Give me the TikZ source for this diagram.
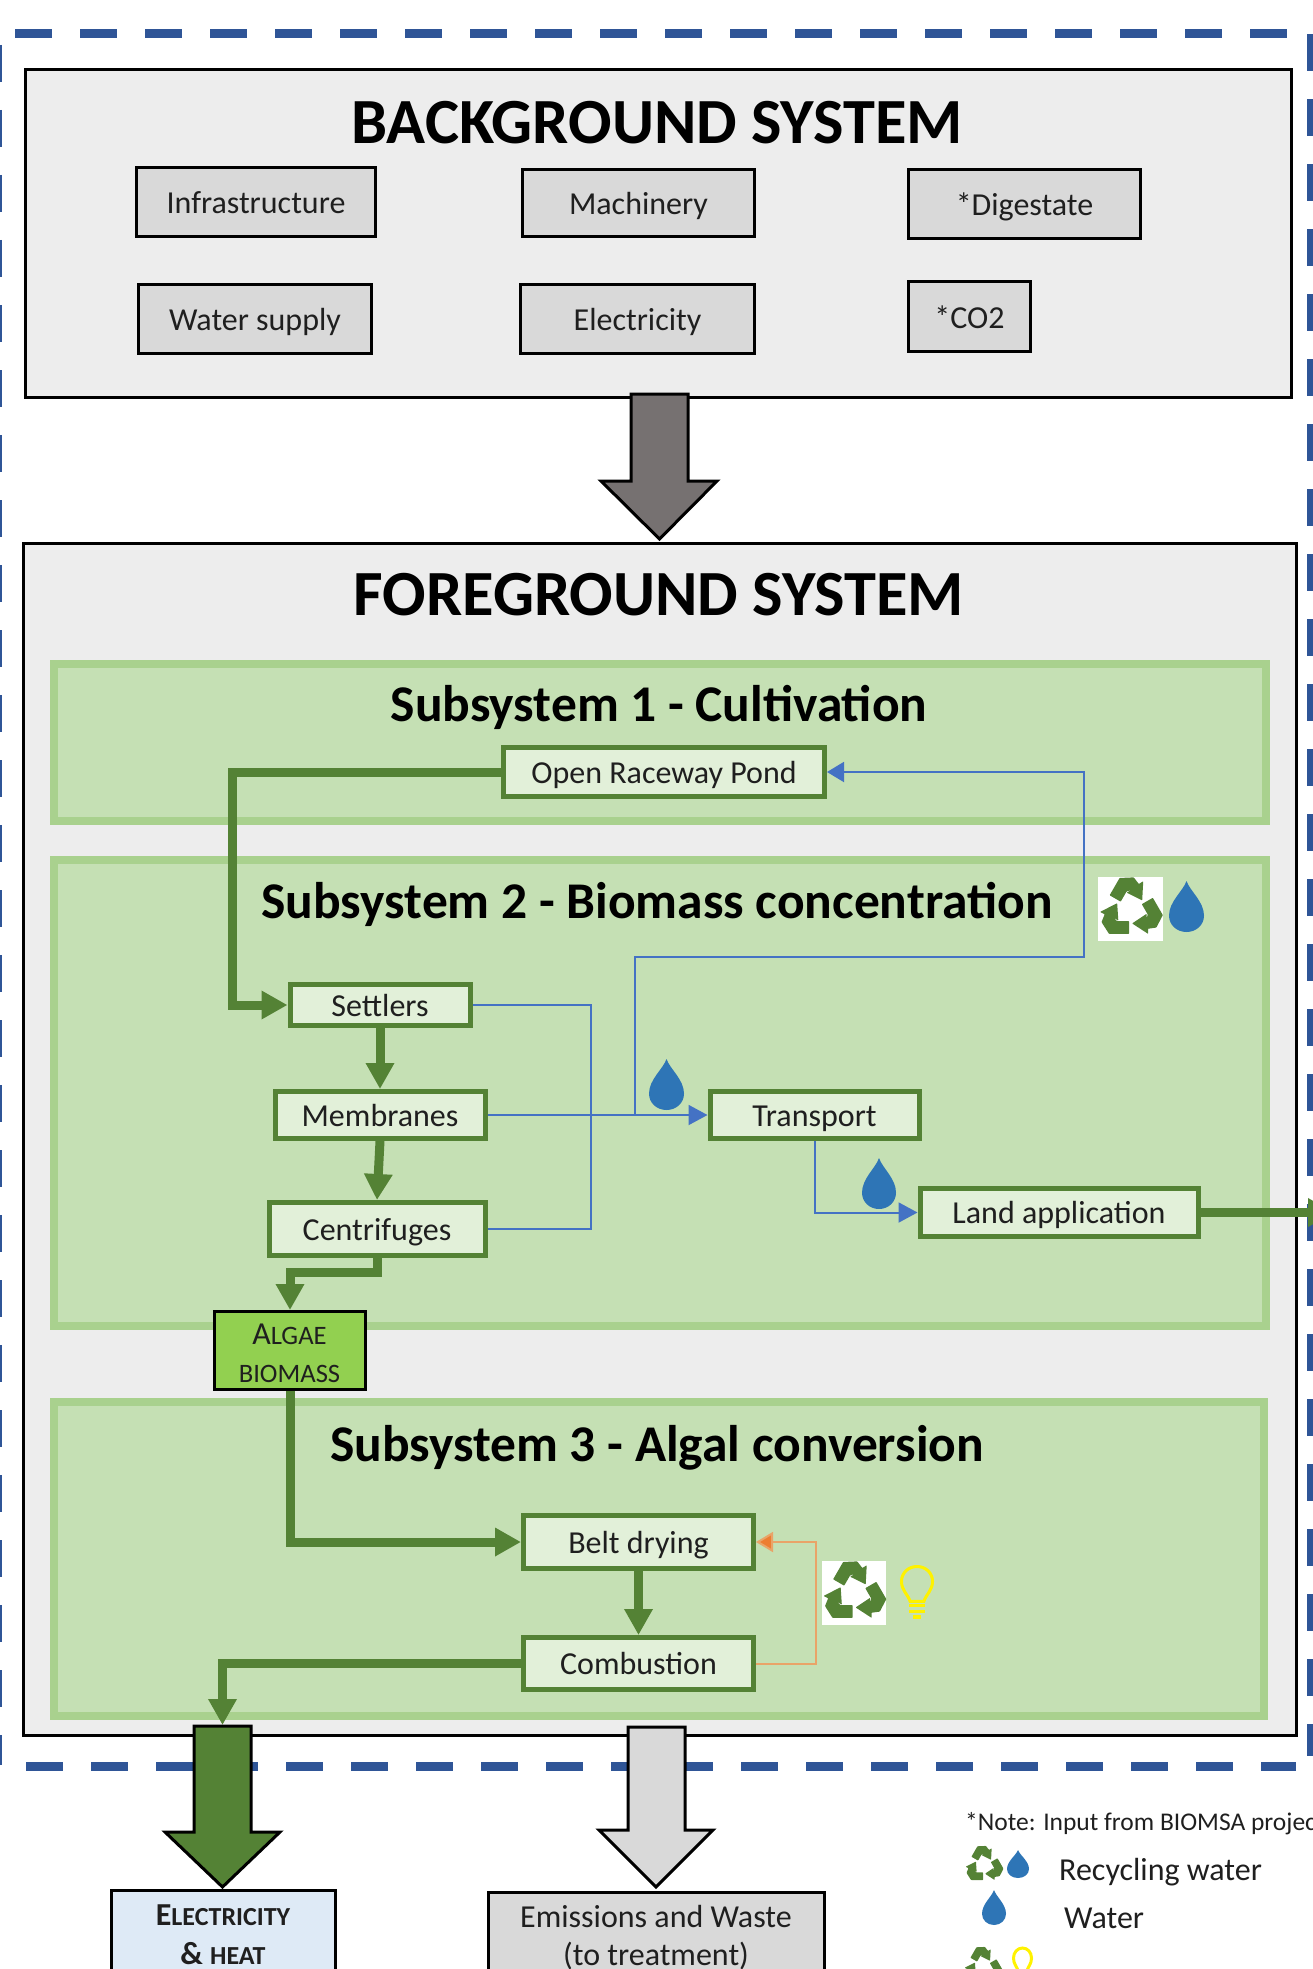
\documentclass[tikz,border=0pt]{standalone}
\usepackage{fontspec}
\setmainfont{Carlito}
\usetikzlibrary{arrows.meta,calc}
\definecolor{dashblue}{HTML}{2F5597}
\definecolor{panel}{HTML}{EDEDED}
\definecolor{greybox}{HTML}{D9D9D9}
\definecolor{subfill}{HTML}{C5E0B4}
\definecolor{subline}{HTML}{A9D18E}
\definecolor{gfill}{HTML}{E2F0D9}
\definecolor{gline}{HTML}{548235}
\definecolor{bioline}{HTML}{92D050}
\definecolor{flowblue}{HTML}{4472C4}
\definecolor{floworange}{HTML}{ED7D31}
\definecolor{orangeline}{HTML}{E9A468}
\definecolor{dropblue}{HTML}{2E75B6}
\definecolor{arrowgrey}{HTML}{767171}
\definecolor{elecfill}{HTML}{DEEAF6}
\definecolor{inktext}{HTML}{1F1F1F}
\newcommand{\fs}[1]{\fontsize{#1}{#1}\selectfont}
\newcommand{\dropicon}[4]{%
  \begin{scope}[shift={(#1,#2)},x=#3pt,y=-#4pt]
    \fill[dropblue] (0,0) .. controls (0.1,0.2) and (0.5,0.4) .. (0.5,0.68)
      .. controls (0.5,0.86) and (0.28,1) .. (0,1)
      .. controls (-0.28,1) and (-0.5,0.86) .. (-0.5,0.68)
      .. controls (-0.5,0.4) and (-0.1,0.2) .. (0,0) -- cycle;
  \end{scope}}
\newcommand{\recycleicon}[3]{%
  \begin{scope}[shift={(#1,#2)},x=#3pt,y=#3pt]
    \foreach \a in {0,120,240}{
      \fill[gline,rotate=\a,rounded corners=0.6pt]
        (-0.05,-0.42) -- (-0.46,-0.42) -- (-0.58,-0.30) -- (-0.42,-0.40)
        -- (-0.46,0.20) -- (-1.05,-0.10) -- (-0.89,-0.18) -- (-1.0,-0.45)
        -- (-0.74,-0.86) -- (-0.05,-0.86) -- cycle;
    }
  \end{scope}}
\newcommand{\bulbicon}[4]{%
  \begin{scope}[shift={(#1,#2)},x=#3pt,y=-#4pt,yellow,line width=3pt]
    \draw (0.28,0.66) .. controls (0.2,0.52) and (0,0.45) .. (0,0.28)
      .. controls (0,0.12) and (0.22,0) .. (0.5,0)
      .. controls (0.78,0) and (1,0.12) .. (1,0.28)
      .. controls (1,0.45) and (0.8,0.52) .. (0.72,0.66) -- cycle;
    \draw (0.25,0.74) -- (0.75,0.74);
    \draw (0.25,0.85) -- (0.75,0.85);
    \draw[line width=4pt] (0.38,0.96) -- (0.62,0.96);
  \end{scope}}
\tikzset{
  outerdash/.style={dashblue,line width=9pt,dash pattern=on 37pt off 28pt},
  panelbox/.style={draw=black,fill=panel,line width=3pt},
  greyitem/.style={draw=black,fill=greybox,line width=3pt,text=inktext,font=\fs{32},inner sep=0pt,text height=23pt,text depth=0pt},
  subbox/.style={draw=subline,fill=subfill,line width=7.5pt},
  procbox/.style={draw=gline,fill=gfill,line width=5pt,text=inktext,font=\fs{32},inner sep=0pt,text height=22.5pt,text depth=0pt},
  title/.style={font=\fs{64.4}\bfseries,text=black,inner sep=0pt},
  subtitle/.style={font=\fs{51.5}\bfseries,text=black,inner sep=0pt},
  legendtext/.style={font=\fs{32},text=inktext,inner sep=0pt,anchor=west},
  massflow/.style={draw=gline,line width=9pt,-{Triangle[length=26pt,width=27pt,fill=gline]}},
  waterflow/.style={draw=flowblue,line width=2pt,-{Triangle[length=19pt,width=20pt,fill=flowblue]}},
  waterline/.style={draw=flowblue,line width=2pt},
  heatflow/.style={draw=orangeline,line width=2pt,-{Triangle[length=17pt,width=20pt,fill=floworange]}},
  blockarrow/.style={draw=black,line width=3pt,line join=miter},
}
\begin{document}
\begin{tikzpicture}[x=1pt,y=-1pt]
\useasboundingbox (0,0) rectangle (1312,1969);
% outer dashed boundary
\draw[outerdash] (15,34) -- (1290,34);
\draw[outerdash] (1311,34) -- (1311,1756);
\draw[outerdash,dash phase=54pt] (-2.5,34) -- (-2.5,1765);
\draw[outerdash] (26,1766) -- (1296,1766);
% panels
\node[panelbox,minimum width=1266pt,minimum height=327pt] (bg) at (658,233.5) {};
\node[title] (bgtitle) at (657,123) {BACKGROUND SYSTEM};
\node[panelbox,minimum width=1273pt,minimum height=1192pt] (fg) at (659.5,1139) {};
\node[title] (fgtitle) at (659,595) {FOREGROUND SYSTEM};
% background items
\node[greyitem,minimum width=239pt,minimum height=69pt] (infra) at (256,202) {Infrastructure};
\node[greyitem,minimum width=232pt,minimum height=67pt] (mach) at (638.5,203) {Machinery\hspace{3pt}};
\node[greyitem,minimum width=232pt,minimum height=69pt] (dig) at (1024.5,204) {*Digestate};
\node[greyitem,minimum width=233pt,minimum height=69pt] (wsup) at (255,319) {Water supply};
\node[greyitem,minimum width=234pt,minimum height=69pt] (elec) at (637.5,319) {Electricity};
\node[greyitem,minimum width=122pt,minimum height=70pt] (co) at (969.5,316.5) {*CO2};
% subsystems
\node[subbox,minimum width=1212pt,minimum height=157pt] (sub1) at (660,742.5) {};
\node[subbox,minimum width=1212pt,minimum height=466pt] (sub2) at (660,1093) {};
\node[subbox,minimum width=1210pt,minimum height=314pt] (sub3) at (659,1559) {};
\node[subtitle] (t1) at (659,707.5) {Subsystem 1 - Cultivation};
\node[subtitle] (t2) at (657,904.5) {Subsystem 2 - Biomass concentration};
\node[subtitle] (t3) at (657,1447.5) {Subsystem 3 - Algal conversion};
% process boxes
\node[procbox,minimum width=321pt,minimum height=49pt] (pond) at (664,772) {Open Raceway Pond};
\node[procbox,minimum width=180pt,minimum height=41pt] (settlers) at (380,1005) {Settlers};
\node[procbox,minimum width=210pt,minimum height=47pt] (memb) at (380,1115) {Membranes};
\node[procbox,minimum width=216pt,minimum height=53pt] (centri) at (377,1229) {Centrifuges};
\node[procbox,minimum width=209pt,minimum height=47pt] (trans) at (814.5,1115) {Transport};
\node[procbox,minimum width=278pt,minimum height=48pt] (land) at (1059,1212.5) {Land application};
\node[procbox,minimum width=230pt,minimum height=53pt] (belt) at (638.5,1542) {Belt drying};
\node[procbox,minimum width=230pt,minimum height=52pt] (comb) at (638.5,1663.5) {Combustion};
\node[draw=black,fill=bioline,line width=3pt,minimum width=151pt,minimum height=78pt] (algae) at (290,1350.5) {};
\node[text=inktext,align=center,inner sep=0pt,font=\fontsize{32}{38}\selectfont] (algaetext) at (289.5,1353)
  {A{\fs{26.6}LGAE}\\{\fs{26.6}BIOMASS}};
% outputs
\node[draw=black,fill=elecfill,line width=3pt,minimum width=224pt,minimum height=88pt,text=inktext,align=center,inner sep=0pt,font=\fontsize{32}{39}\selectfont\bfseries] (heat) at (223,1934.5)
  {E{\fs{26}LECTRICITY}\\\& {\fs{26}HEAT}};
\node[draw=black,fill=greybox,line width=3pt,minimum width=336pt,minimum height=91pt,text=inktext,align=center,inner sep=0pt,font=\fontsize{32}{38}\selectfont] (waste) at (656,1938)
  {Emissions and Waste\\(to treatment)};
% flows
\coordinate (turnA) at (232,890);
\coordinate (joinB) at (591,1115);
\coordinate (branchB) at (635,1115);
\coordinate (cornerB) at (635,957);
\coordinate (cornerC) at (1084,957);
\coordinate (joinO) at (816,1600);
\coordinate (heatin) at (222.5,1725);
\coordinate (landout) at (1334,1212.5);
\draw[waterline] (settlers.east) -| (joinB) |- (centri.east);
\draw[waterflow] (memb.east) -- (trans.west);
\draw[waterflow,-{Triangle[length=17pt,width=20pt,fill=flowblue]},line join=miter] (branchB) -- (cornerB) -- (cornerC) |- (pond.east);
\draw[waterflow] (trans.south) |- (land.west);
\draw[heatflow] (comb.east) -| (joinO) |- (belt.east);
\draw[massflow] (pond.west) -| (turnA) |- (settlers.west);
\draw[massflow] (settlers.south) -- (memb.north);
\draw[massflow] (memb.south) -- (centri.north);
\draw[massflow] (centri.south) -- ($(centri.south)+(0,14)$) -| (algae.north);
\draw[massflow] (algae.south) |- (belt.west);
\draw[massflow] (belt.south) -- (comb.north);
\draw[massflow] (comb.west) -| (heatin);
\draw[massflow] (land.east) -- (landout);
% block arrows
\draw[blockarrow,fill=arrowgrey] (631,394) -- (688,394) -- (688,481) -- (717,481) -- (659.5,539) -- (601,481) -- (631,481) -- cycle;
\draw[blockarrow,fill=gline] (194,1726) -- (251,1726) -- (251,1832) -- (280,1832) -- (222.5,1887) -- (165,1832) -- (194,1832) -- cycle;
\draw[blockarrow,fill=greybox] (628,1727) -- (685,1727) -- (685,1830) -- (713,1830) -- (656,1887) -- (599,1830) -- (628,1830) -- cycle;
% icons
\fill[white] (1098,877) rectangle (1163,941);
\recycleicon{1130.5}{909}{29}
\dropicon{1186.5}{881}{35}{51}
\dropicon{666.5}{1059}{35}{51}
\dropicon{879}{1158}{34}{51}
\fill[white] (822,1561) rectangle (886,1625);
\recycleicon{854}{1593}{29}
\bulbicon{901.5}{1566.5}{31}{53}
% legend
\node[legendtext,font=\fs{25.5}] (note) at (965,1824) {*Note: Input from BIOMSA project};
\recycleicon{984}{1865}{17.5}
\dropicon{1018}{1850}{22}{28}
\node[legendtext] (lrw) at (1059,1872) {Recycling water};
\dropicon{994}{1890}{24}{35}
\node[legendtext] (lw) at (1064,1918) {Water};
\recycleicon{983}{1966}{17.5}
\bulbicon{1013.5}{1948}{18}{36}
\end{tikzpicture}
\end{document}
